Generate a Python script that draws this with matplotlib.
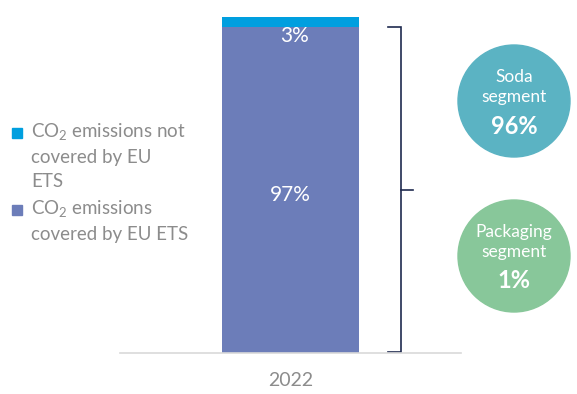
import matplotlib.pyplot as plt
from matplotlib.patches import Circle, Rectangle

plt.rcParams['font.family'] = ['Lato', 'DejaVu Sans']
plt.rcParams['mathtext.fontset'] = 'custom'
plt.rcParams['mathtext.rm'] = 'Lato'
plt.rcParams['mathtext.it'] = 'Lato:italic'

years = ['2022']
covered = [97]
not_covered = [3]
series_labels = ['CO$_2$ emissions not\ncovered by EU\nETS',
                 'CO$_2$ emissions\ncovered by EU ETS']
segments = ['Soda\nsegment', 'Packaging\nsegment']
segment_shares = [96, 1]

C_COVERED = '#6C7DB9'
C_NOT = '#009FDF'
C_TEXT = '#8C8C8C'
C_BRACKET = '#1F2A4F'
seg_colors = ['#5BB3C3', '#88C79A']

W, H = 577, 394
fig = plt.figure(figsize=(W / 100, H / 100), dpi=100)

# main bar axes
ax = fig.add_axes([120 / W, 41 / H, 341 / W, 336 / H])
ax.bar(years, covered, width=1, color=C_COVERED)
ax.bar(years, not_covered, bottom=covered, width=1, color=C_NOT)
ax.set_xlim(-1.244, 1.244)
ax.set_ylim(0, 100)
for s in ['top', 'right', 'left']:
    ax.spines[s].set_visible(False)
ax.spines['bottom'].set_color('#D9D9D9')
ax.spines['bottom'].set_linewidth(1.2)
ax.set_yticks([])
ax.tick_params(axis='x', length=0, pad=14, labelsize=14, labelcolor=C_TEXT)

ax.text(0, covered[0] / 2 - 1.5, f'{covered[0]}%', ha='center', va='center',
        color='white', fontsize=15)
ax.text(0.03, covered[0] - 2.8, f'{not_covered[0]}%', ha='center', va='center',
        color='white', fontsize=15)

# bracket around the covered share
bx, bl, br = 0.807, 0.712, 0.894
ax.plot([bl, bx, bx, bl], [covered[0], covered[0], 0.3, 0.3],
        color=C_BRACKET, lw=1.2, clip_on=False, solid_joinstyle='miter')
ax.plot([bx, br], [covered[0] / 2, covered[0] / 2],
        color=C_BRACKET, lw=1.2, clip_on=False)

# overlay in pixel units for legend and segment circles
ov = fig.add_axes([0, 0, 1, 1])
ov.set_xlim(0, W)
ov.set_ylim(H, 0)
ov.axis('off')

legend_y = [133, 210]
for y, lab, col in zip(legend_y, series_labels, [C_NOT, C_COVERED]):
    ov.add_patch(Rectangle((12, y - 5), 10, 10, color=col))
    ov.text(31, y - 12, lab, ha='left', va='top', color=C_TEXT,
            fontsize=13.5, linespacing=1.5)

circle_y = [101, 256]
for cy, name, share, col in zip(circle_y, segments, segment_shares, seg_colors):
    ov.add_patch(Circle((514, cy), 56, color=col))
    ov.text(514, cy - 14, name, ha='center', va='center', color='white',
            fontsize=12.5, linespacing=1.3)
    ov.text(514, cy + 25, f'{share}%', ha='center', va='center',
            color='white', fontsize=17, fontweight='bold')

fig.savefig('out.png', dpi=100)
